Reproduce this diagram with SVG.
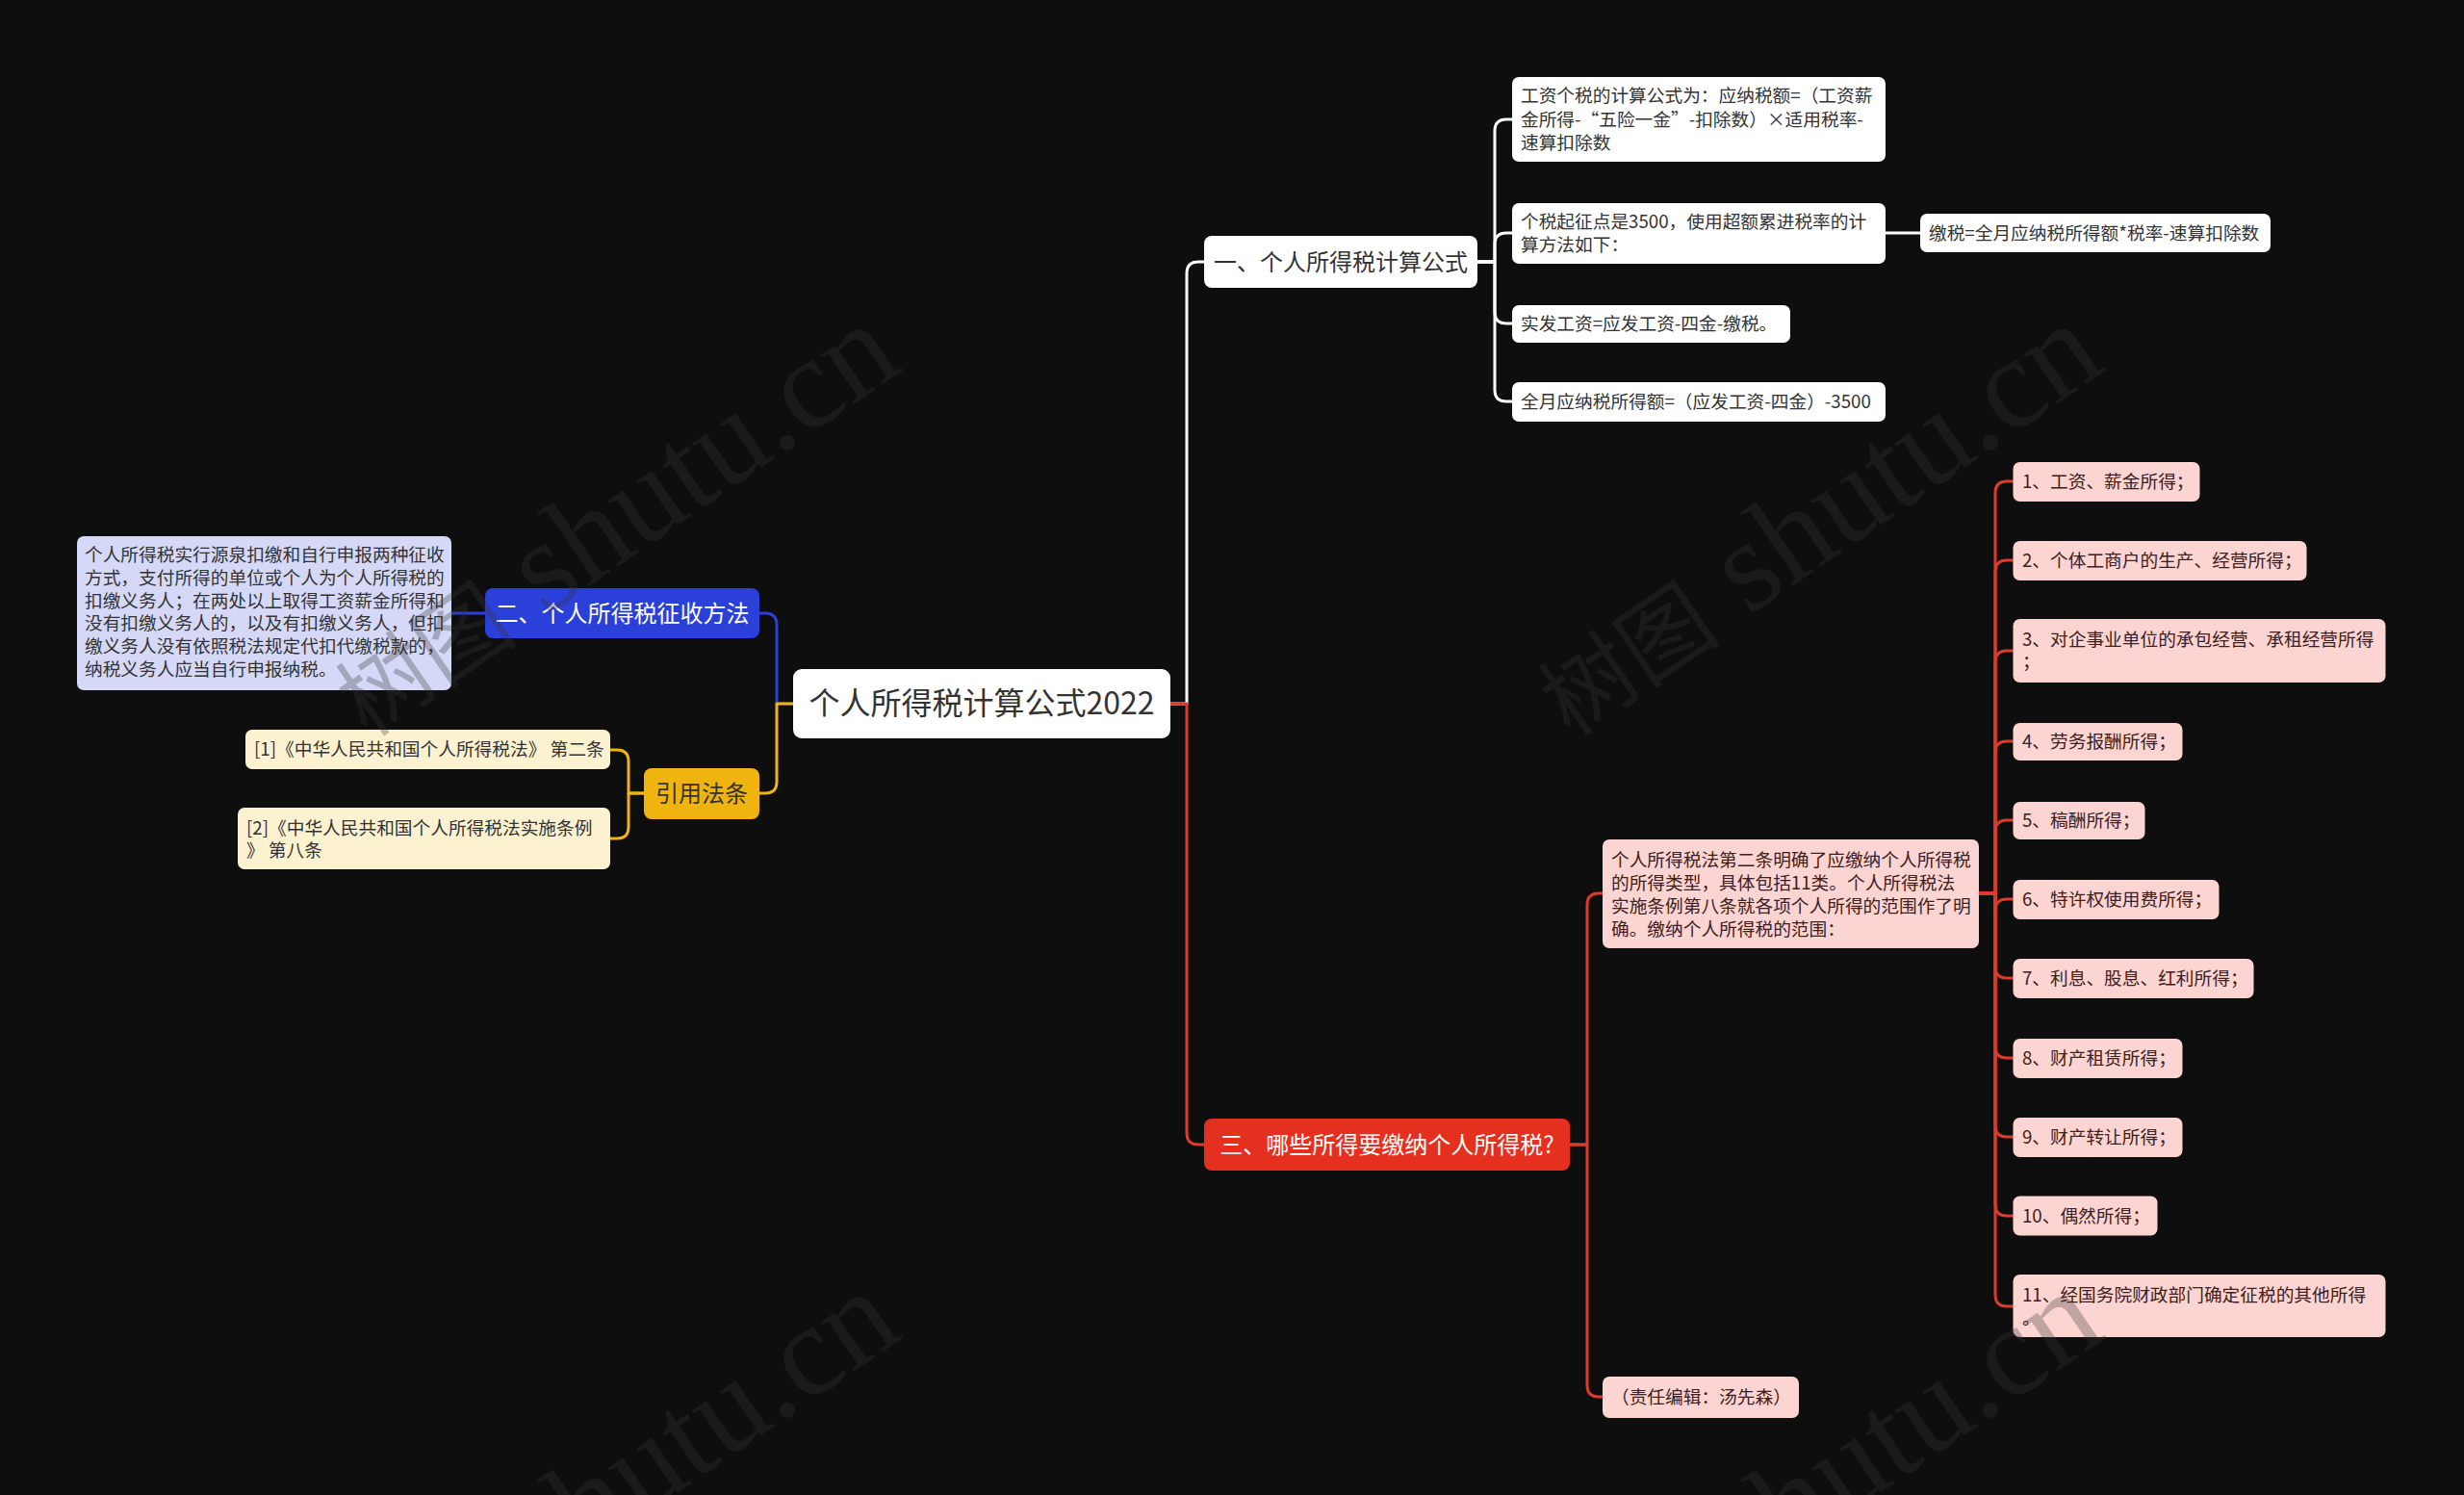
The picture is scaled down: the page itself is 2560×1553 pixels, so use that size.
<svg xmlns="http://www.w3.org/2000/svg" width="2560" height="1553" viewBox="0 0 2560 1553">
<style>
text{font-family:"Noto Sans CJK SC","Noto Sans",sans-serif;}
.t{font-size:18.7px;fill:#333333;}
.tp{font-size:18.7px;fill:#3d2020;}
.b{font-size:24px;}
.c{text-anchor:middle;}
.ln{fill:none;stroke-width:3;stroke-linecap:round;stroke-linejoin:round;}
.lw{stroke:#ffffff;}
.lr{stroke:#dc3a2a;}
.lb{stroke:#2b3fd9;}
.ly{stroke:#f0b40f;}
.wbox{fill:#ffffff;}
.pbox{fill:#fcd4d1;}
.ybox{fill:#fdf2d0;}
.wm{font-family:"Liberation Serif","Noto Sans CJK SC",serif;fill:#373737;opacity:0.3;}
</style>
<rect x="0" y="0" width="2560" height="1553" fill="#0e0e0e"/>

<g id="connectors">
  <path class="ln lw" d="M1216,731 H1233 V284 Q1233,272 1245,272 H1251"/>
  <path class="ln lr" d="M1216,731 H1233 V1177 Q1233,1189 1245,1189 H1251"/>
  <path class="ln lb" d="M824,731 H807 V649 Q807,637 795,637 H789"/>
  <path class="ln ly" d="M824,731 H807 V812 Q807,824 795,824 H789"/>
  <path class="ln lb" d="M504,637 H469"/>
  <path class="ln ly" d="M669,824 H653 V791 Q653,779 641,779 H634"/>
  <path class="ln ly" d="M669,824 H653 V859 Q653,871 641,871 H634"/>
  <path class="ln lw" d="M1535,272 H1553 V136 Q1553,124 1565,124 H1571"/>
  <path class="ln lw" d="M1535,272 H1553 V254 Q1553,242 1565,242 H1571"/>
  <path class="ln lw" d="M1535,272 H1553 V324 Q1553,336 1565,336 H1571"/>
  <path class="ln lw" d="M1535,272 H1553 V405 Q1553,417 1565,417 H1571"/>
  <path class="ln lw" d="M1959,242 H1995"/>
  <path class="ln lr" d="M1631,1189 H1649 V940 Q1649,928 1661,928 H1665"/>
  <path class="ln lr" d="M1631,1189 H1649 V1439 Q1649,1451 1661,1451 H1665"/>
  <path class="ln lr" d="M2056,928 H2073 V512 Q2073,500 2085,500 H2091"/>
  <path class="ln lr" d="M2056,928 H2073 V594 Q2073,582 2085,582 H2091"/>
  <path class="ln lr" d="M2056,928 H2073 V688 Q2073,676 2085,676 H2091"/>
  <path class="ln lr" d="M2056,928 H2073 V782 Q2073,770 2085,770 H2091"/>
  <path class="ln lr" d="M2056,928 H2073 V864 Q2073,852 2085,852 H2091"/>
  <path class="ln lr" d="M2056,928 H2073 V946 Q2073,934 2085,934 H2091"/>
  <path class="ln lr" d="M2056,928 H2073 V1004 Q2073,1016 2085,1016 H2091"/>
  <path class="ln lr" d="M2056,928 H2073 V1087 Q2073,1099 2085,1099 H2091"/>
  <path class="ln lr" d="M2056,928 H2073 V1169 Q2073,1181 2085,1181 H2091"/>
  <path class="ln lr" d="M2056,928 H2073 V1251 Q2073,1263 2085,1263 H2091"/>
  <path class="ln lr" d="M2056,928 H2073 V1345 Q2073,1357 2085,1357 H2091"/>
</g>

<g id="root">
  <rect x="824" y="695" width="392" height="72" rx="9" class="wbox"/>
  <text x="1020" y="742" class="c" font-size="32" fill="#333333">个人所得税计算公式2022</text>
</g>

<g id="branch1">
  <rect x="1251" y="245" width="284" height="54" rx="8" class="wbox"/>
  <text x="1393" y="280.5" class="b c" fill="#333333">一、个人所得税计算公式</text>
</g>
<g id="b1c1">
  <rect x="1571" y="80" width="388" height="88" rx="7" class="wbox"/>
  <text class="t"><tspan x="1580" y="106">工资个税的计算公式为：应纳税额=（工资薪</tspan><tspan x="1580" y="130.5">金所得-“五险一金”-扣除数）×适用税率-</tspan><tspan x="1580" y="155">速算扣除数</tspan></text>
</g>
<g id="b1c2">
  <rect x="1571" y="211" width="388" height="63" rx="7" class="wbox"/>
  <text class="t"><tspan x="1580" y="236.5">个税起征点是3500，使用超额累进税率的计</tspan><tspan x="1580" y="260.5">算方法如下：</tspan></text>
</g>
<g id="b1c2a">
  <rect x="1995" y="222" width="364" height="40" rx="7" class="wbox"/>
  <text x="2004" y="248.5" class="t">缴税=全月应纳税所得额*税率-速算扣除数</text>
</g>
<g id="b1c3">
  <rect x="1571" y="317" width="289" height="39" rx="7" class="wbox"/>
  <text x="1580" y="342.5" class="t">实发工资=应发工资-四金-缴税。</text>
</g>
<g id="b1c4">
  <rect x="1571" y="397" width="388" height="41" rx="7" class="wbox"/>
  <text x="1580" y="424" class="t">全月应纳税所得额=（应发工资-四金）-3500</text>
</g>

<g id="branch2">
  <rect x="504" y="611" width="285" height="52" rx="8" fill="#2b3fd9"/>
  <text x="646.5" y="645.5" class="b c" fill="#ffffff">二、个人所得税征收方法</text>
</g>
<g id="b2c1">
  <rect x="80" y="557" width="389" height="160" rx="7" fill="#d5d9f7"/>
  <text class="t"><tspan x="88" y="583">个人所得税实行源泉扣缴和自行申报两种征收</tspan><tspan x="88" y="606.8">方式，支付所得的单位或个人为个人所得税的</tspan><tspan x="88" y="630.6">扣缴义务人；在两处以上取得工资薪金所得和</tspan><tspan x="88" y="654.4">没有扣缴义务人的，以及有扣缴义务人，但扣</tspan><tspan x="88" y="678.2">缴义务人没有依照税法规定代扣代缴税款的，</tspan><tspan x="88" y="702">纳税义务人应当自行申报纳税。</tspan></text>
</g>

<g id="branch4">
  <rect x="669" y="798" width="120" height="53" rx="8" fill="#f0b40f"/>
  <text x="729" y="833" class="b c" fill="#333333">引用法条</text>
</g>
<g id="ref1">
  <rect x="255" y="758" width="379" height="41" rx="7" class="ybox"/>
  <text x="264" y="785" class="t">[1]《中华人民共和国个人所得税法》 第二条</text>
</g>
<g id="ref2">
  <rect x="247" y="839" width="387" height="64" rx="7" class="ybox"/>
  <text class="t"><tspan x="256" y="866.5">[2]《中华人民共和国个人所得税法实施条例</tspan><tspan x="256" y="890">》 第八条</tspan></text>
</g>

<g id="branch3">
  <rect x="1251" y="1162" width="380" height="54" rx="8" fill="#e5301f"/>
  <text x="1441" y="1197.5" class="b c" fill="#ffffff">三、哪些所得要缴纳个人所得税?</text>
</g>
<g id="b3c1">
  <rect x="1665" y="872" width="391" height="113" rx="7" class="pbox"/>
  <text class="tp"><tspan x="1674" y="899.5">个人所得税法第二条明确了应缴纳个人所得税</tspan><tspan x="1674" y="923.8">的所得类型，具体包括11类。个人所得税法</tspan><tspan x="1674" y="948.1">实施条例第八条就各项个人所得的范围作了明</tspan><tspan x="1674" y="972.4">确。缴纳个人所得税的范围：</tspan></text>
</g>
<g id="b3c2">
  <rect x="1665" y="1430" width="204" height="43" rx="7" class="pbox"/>
  <text x="1674" y="1458" class="tp">（责任编辑：汤先森）</text>
</g>

<g id="item1"><rect x="2091.5" y="480" width="194" height="41" rx="7" class="pbox"/><text x="2101" y="507" class="tp">1、工资、薪金所得；</text></g>
<g id="item2"><rect x="2091.5" y="562" width="305" height="41" rx="7" class="pbox"/><text x="2101" y="588.5" class="tp">2、个体工商户的生产、经营所得；</text></g>
<g id="item3"><rect x="2091.5" y="643" width="387" height="66" rx="7" class="pbox"/><text class="tp"><tspan x="2101" y="671">3、对企事业单位的承包经营、承租经营所得</tspan><tspan x="2101" y="694">；</tspan></text></g>
<g id="item4"><rect x="2091.5" y="751" width="176" height="39" rx="7" class="pbox"/><text x="2101" y="777" class="tp">4、劳务报酬所得；</text></g>
<g id="item5"><rect x="2091.5" y="833" width="137" height="39" rx="7" class="pbox"/><text x="2101" y="859" class="tp">5、稿酬所得；</text></g>
<g id="item6"><rect x="2091.5" y="914" width="214" height="41" rx="7" class="pbox"/><text x="2101" y="941" class="tp">6、特许权使用费所得；</text></g>
<g id="item7"><rect x="2091.5" y="996" width="250" height="41" rx="7" class="pbox"/><text x="2101" y="1023" class="tp">7、利息、股息、红利所得；</text></g>
<g id="item8"><rect x="2091.5" y="1079" width="176" height="41" rx="7" class="pbox"/><text x="2101" y="1106" class="tp">8、财产租赁所得；</text></g>
<g id="item9"><rect x="2091.5" y="1161" width="176" height="41" rx="7" class="pbox"/><text x="2101" y="1188" class="tp">9、财产转让所得；</text></g>
<g id="item10"><rect x="2091.5" y="1242.5" width="150" height="41" rx="7" class="pbox"/><text x="2101" y="1269.5" class="tp">10、偶然所得；</text></g>
<g id="item11"><rect x="2091.5" y="1324" width="387" height="65" rx="7" class="pbox"/><text class="tp"><tspan x="2101" y="1351.5">11、经国务院财政部门确定征税的其他所得</tspan><tspan x="2101" y="1376">。</tspan></text></g>

<g id="watermarks">
  <text class="wm" transform="translate(382,767) rotate(-34.5)"><tspan font-size="95">树图</tspan><tspan font-size="135"> shutu.cn</tspan></text>
  <text class="wm" transform="translate(1632,767) rotate(-34.5)"><tspan font-size="95">树图</tspan><tspan font-size="135"> shutu.cn</tspan></text>
  <text class="wm" transform="translate(382,1772) rotate(-34.5)"><tspan font-size="95">树图</tspan><tspan font-size="135"> shutu.cn</tspan></text>
  <text class="wm" transform="translate(1632,1772) rotate(-34.5)"><tspan font-size="95">树图</tspan><tspan font-size="135"> shutu.cn</tspan></text>
</g>
</svg>
